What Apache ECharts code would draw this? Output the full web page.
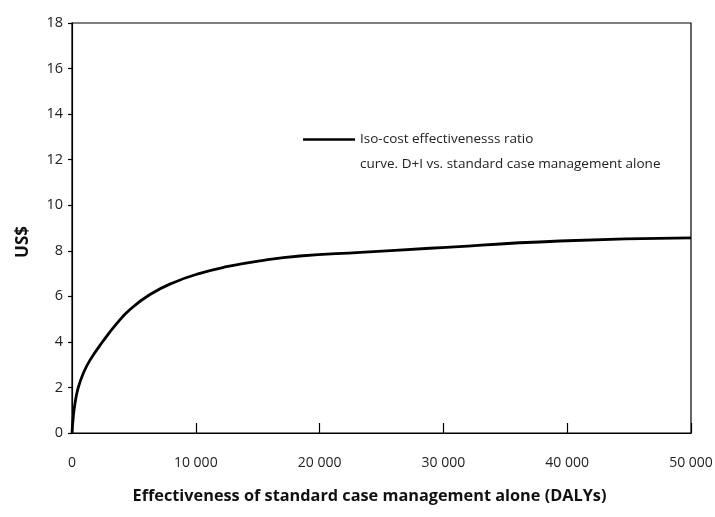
<!DOCTYPE html>
<html>
<head>
<meta charset="utf-8">
<script src="https://cdn.jsdelivr.net/npm/echarts@6/dist/echarts.min.js"></script>
<style>
  html, body { margin: 0; padding: 0; background: #fff; }
  #main { width: 715px; height: 517px; }
</style>
</head>
<body>
<div id="main"></div>
<script type="text/javascript">
    // 读图得到的曲线点 (DALYs, US$)
    var dalys = [0, 105, 242, 509, 913, 1454, 2530, 3608, 4685, 6300, 8183, 10339, 12496, 15200, 18400, 23300, 28900, 39400, 50000];
    var usd = [0, 0.72, 1.3, 2.0, 2.62, 3.2, 4.05, 4.8, 5.42, 6.08, 6.60, 7.01, 7.30, 7.56, 7.77, 7.93, 8.11, 8.43, 8.57];
    var seriesName = 'Iso-cost effectivenesss ratio\ncurve. D+I vs. standard case management alone';

    var points = dalys.map(function (d, i) { return [d, usd[i]]; });

    var myChart = echarts.init(document.getElementById('main'));
    var font = 'Open Sans';
    var option = {
        animation: false,
        backgroundColor: '#fff',
        grid: {
            left: 72, right: 24, top: 23, bottom: 84,
            outerBoundsMode: 'none',
            show: true, borderColor: '#000', borderWidth: 1.2
        },
        legend: {
            left: 298, top: 97,
            itemWidth: 52, itemHeight: 12,
            data: [{ name: seriesName, icon: 'path://M0,0 L52,0 L52,2.5 L0,2.5 Z' }],
            // 前面加空行让图标对齐第一行
            formatter: function (name) { return '\n' + name; },
            textStyle: { fontFamily: font, fontSize: 13.5, color: '#222', lineHeight: 25 }
        },
        xAxis: {
            type: 'value',
            min: 0, max: 50000, interval: 10000,
            name: 'Effectiveness of standard case management alone (DALYs)',
            nameLocation: 'middle', nameGap: 55,
            nameTextStyle: {
                fontFamily: font, fontSize: 16.3, fontWeight: 'bold', color: '#111',
                padding: [0, 24, 0, 0]
            },
            axisLine: { lineStyle: { color: '#000', width: 1.2 } },
            axisTick: { inside: true, length: 10, lineStyle: { color: '#000', width: 1.2 } },
            axisLabel: {
                margin: 23, fontFamily: font, fontSize: 14, color: '#222',
                formatter: function (v) { return String(v).replace(/\B(?=(\d{3})+(?!\d))/g, ' '); }
            },
            splitLine: { show: false }
        },
        yAxis: {
            type: 'value',
            min: 0, max: 18, interval: 2,
            name: 'US$',
            nameLocation: 'middle', nameGap: 40,
            nameTextStyle: {
                fontFamily: font, fontSize: 17, fontWeight: 'bold', color: '#111',
                padding: [0, 28, 0, 0]
            },
            axisLine: { lineStyle: { color: '#000', width: 1.2 } },
            axisTick: { length: 4, lineStyle: { color: '#000', width: 1.2 } },
            axisLabel: { margin: 9, fontFamily: font, fontSize: 14.5, color: '#222' },
            splitLine: { show: false }
        },
        series: [{
            name: seriesName,
            type: 'line',
            data: points,
            smooth: 0.5,
            showSymbol: false,
            lineStyle: { color: '#000', width: 2.8 },
            itemStyle: { color: '#000' }
        }]
    };
    myChart.setOption(option);
</script>
</body>
</html>
